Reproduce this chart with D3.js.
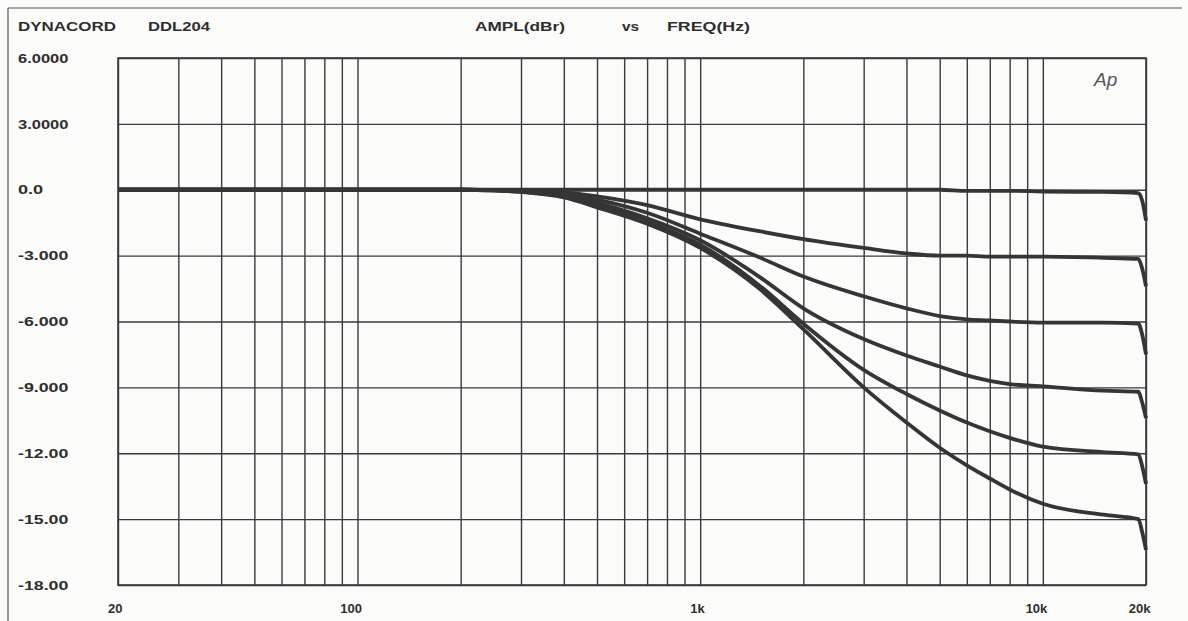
<!DOCTYPE html>
<html>
<head>
<meta charset="utf-8">
<script src="https://cdn.jsdelivr.net/npm/d3@7"></script>
<style>
  html, body { margin: 0; padding: 0; background: #fbfbfa; }
  svg { display: block; }
  text { font-family: "Liberation Sans", Arial, sans-serif; fill: #2e2e2e; }
</style>
</head>
<body>
<script>
// frequency points (Hz)
var freqs = [20, 50, 100, 150, 200, 250, 300, 400, 500, 700, 1000, 1500, 2000, 3000, 4000, 5000, 6000, 7000, 8000, 10000, 15000, 19000, 19500, 20000];

// amplitude in dBr, one array per trace
var flat    = [0, 0, 0, 0, 0, 0, 0, 0, 0, 0, 0, 0, 0, 0, 0, 0, -0.05, -0.05, -0.05, -0.08, -0.1, -0.15, -0.5, -1.4];
var shelf3  = [0, 0, 0, 0, 0, -0.02, -0.05, -0.12, -0.3, -0.7, -1.35, -1.9, -2.25, -2.65, -2.9, -3.0, -3.0, -3.05, -3.05, -3.05, -3.1, -3.15, -3.6, -4.4];
var shelf6  = [0, 0, 0, 0, 0, -0.02, -0.06, -0.18, -0.45, -1.05, -2.0, -3.1, -3.95, -4.85, -5.4, -5.75, -5.9, -5.95, -6.0, -6.05, -6.05, -6.1, -6.6, -7.5];
var shelf9  = [0, 0, 0, 0, 0, -0.03, -0.08, -0.25, -0.6, -1.3, -2.3, -4.0, -5.4, -6.8, -7.55, -8.05, -8.45, -8.7, -8.85, -8.95, -9.15, -9.2, -9.7, -10.4];
var shelf12 = [0, 0, 0, 0, 0, -0.03, -0.09, -0.3, -0.7, -1.45, -2.5, -4.4, -6.1, -8.2, -9.3, -10.05, -10.6, -11.0, -11.3, -11.7, -11.95, -12.05, -12.6, -13.4];
var shelf15 = [0, 0, 0, 0, 0, -0.03, -0.1, -0.35, -0.8, -1.55, -2.65, -4.55, -6.35, -9.0, -10.6, -11.75, -12.55, -13.15, -13.65, -14.3, -14.8, -15.0, -15.6, -16.4];

var series = [flat, shelf3, shelf6, shelf9, shelf12, shelf15];

var yTicks = [6, 3, 0, -3, -6, -9, -12, -15, -18];
var yLabels = ["6.0000", "3.0000", "0.0", "-3.000", "-6.000", "-9.000", "-12.00", "-15.00", "-18.00"];
var xLabelFreqs = [20, 100, 1000, 10000, 20000];
var xLabels = ["20", "100", "1k", "10k", "20k"];

var W = 1188, H = 621;
var margin = {top: 58, right: 42, bottom: 36, left: 118};
var w = W - margin.left - margin.right;
var h = H - margin.top - margin.bottom;

var svg = d3.select("body").append("svg")
    .attr("width", W)
    .attr("height", H);

// page frame (top and left edges of the scanned sheet)
svg.append("line").attr("x1", 8).attr("x2", 1182).attr("y1", 8).attr("y2", 8)
    .attr("stroke", "#555").attr("stroke-width", 1.2);
svg.append("line").attr("x1", 8).attr("x2", 8).attr("y1", 8).attr("y2", H)
    .attr("stroke", "#555").attr("stroke-width", 1.2);

// header
var header = [
  {t: "DYNACORD", x: 18, len: 98},
  {t: "DDL204", x: 148, len: 62},
  {t: "AMPL(dBr)", x: 475, len: 90},
  {t: "vs", x: 622, len: 17},
  {t: "FREQ(Hz)", x: 667, len: 83}
];
svg.selectAll("text.head").data(header).enter().append("text")
    .attr("class", "head")
    .attr("x", function(d) { return d.x; })
    .attr("y", 31)
    .attr("textLength", function(d) { return d.len; })
    .attr("lengthAdjust", "spacingAndGlyphs")
    .style("font-size", "13px")
    .style("font-weight", "bold")
    .text(function(d) { return d.t; });

var g = svg.append("g").attr("transform", "translate(" + margin.left + "," + margin.top + ")");

var x = d3.scaleLog().domain([20, 20000]).range([0, w]);
var y = d3.scaleLinear().domain([-18, 6]).range([h, 0]);

// vertical grid
var xGrid = g.append("g").attr("class", "xgrid")
    .attr("transform", "translate(0," + h + ")")
    .call(d3.axisBottom(x).ticks(10).tickSize(h).tickFormat(""));
xGrid.selectAll(".tick line").attr("transform", "translate(0," + (-h) + ")");

// horizontal grid + y labels
var yAxis = g.append("g").attr("class", "ygrid")
    .call(d3.axisLeft(y).tickValues(yTicks).tickSize(-w)
      .tickFormat(function(d, i) { return yLabels[i]; }));
yAxis.selectAll(".tick text")
    .attr("x", -100)
    .attr("dy", "0.32em")
    .attr("text-anchor", "start")
    .style("font-size", "13px")
    .style("font-weight", "bold")
    .attr("textLength", function(d, i) { return yLabels[i].length * 8.4; })
    .attr("lengthAdjust", "spacingAndGlyphs");

// x labels
var xAxis = g.append("g").attr("class", "xlab")
    .attr("transform", "translate(0," + h + ")")
    .call(d3.axisBottom(x).tickValues(xLabelFreqs).tickSize(0)
      .tickFormat(function(d, i) { return xLabels[i]; }));
xAxis.selectAll(".tick text")
    .attr("x", 4)
    .attr("y", 19)
    .attr("text-anchor", "end")
    .style("font-size", "13px")
    .style("font-weight", "bold");

g.selectAll(".domain").remove();
g.selectAll(".xgrid .tick line, .ygrid .tick line")
    .attr("stroke", "#3a3a3a")
    .attr("stroke-width", 1.4);

// plot frame
g.append("rect")
    .attr("width", w).attr("height", h)
    .attr("fill", "none")
    .attr("stroke", "#3a3a3a")
    .attr("stroke-width", 1.6);

// traces
var line = d3.line()
    .x(function(d) { return x(d[0]); })
    .y(function(d) { return y(d[1]); })
    .curve(d3.curveMonotoneX);

g.selectAll("path.trace").data(series).enter().append("path")
    .attr("class", "trace")
    .attr("d", function(s) { return line(freqs.map(function(f, i) { return [f, s[i]]; })); })
    .attr("fill", "none")
    .attr("stroke", "#353535")
    .attr("stroke-width", 3.8)
    .attr("stroke-linejoin", "round");

// Ap logo
svg.append("text")
    .attr("x", 1094)
    .attr("y", 86)
    .style("font-size", "19px")
    .style("font-style", "italic")
    .style("fill", "#555")
    .text("Ap");
</script>
</body>
</html>
